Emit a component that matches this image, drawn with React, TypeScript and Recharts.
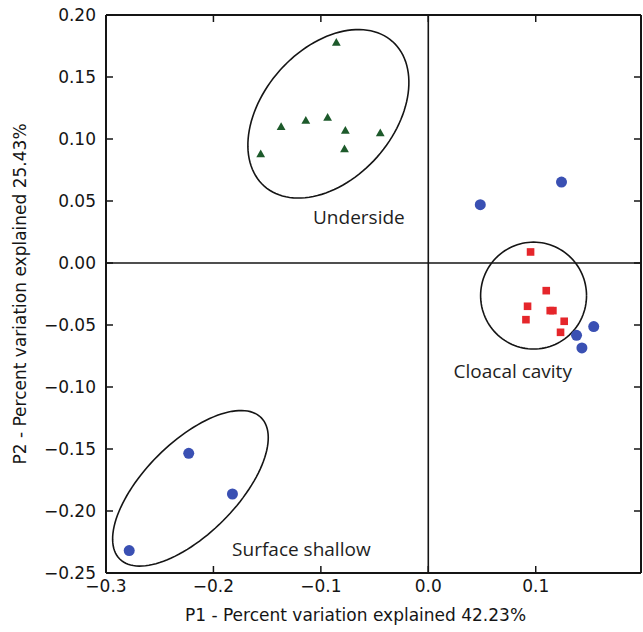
import { ScatterChart, Scatter, XAxis, YAxis, ReferenceLine } from 'recharts';

// PCoA scores
const triangles = [
  { x: -0.0856, y: 0.178 },
  { x: -0.137, y: 0.11 },
  { x: -0.114, y: 0.115 },
  { x: -0.0937, y: 0.1175 },
  { x: -0.0772, y: 0.107 },
  { x: -0.0447, y: 0.105 },
  { x: -0.078, y: 0.092 },
  { x: -0.156, y: 0.088 },
];

const circles = [
  { x: 0.124, y: 0.0653 },
  { x: 0.0484, y: 0.047 },
  { x: 0.154, y: -0.0513 },
  { x: 0.138, y: -0.0583 },
  { x: 0.143, y: -0.0685 },
  { x: -0.223, y: -0.1535 },
  { x: -0.1823, y: -0.1863 },
  { x: -0.2784, y: -0.2319 },
];

const squares = [
  { x: 0.0952, y: 0.0089 },
  { x: 0.1098, y: -0.0223 },
  { x: 0.0924, y: -0.0349 },
  { x: 0.1135, y: -0.0384 },
  { x: 0.116, y: -0.0384 },
  { x: 0.0909, y: -0.0457 },
  { x: 0.1265, y: -0.047 },
  { x: 0.1231, y: -0.0559 },
];

const xTicks = [-0.3, -0.2, -0.1, 0, 0.1];
const yTicks = [0.2, 0.15, 0.1, 0.05, 0, -0.05, -0.1, -0.15, -0.2, -0.25];

// group ellipses: centre + two conjugate half-axes (data units)
const ellipses = [
  { name: 'underside', cx: -0.093, cy: 0.1203, ux: 0.0597, uy: 0.0583, vx: -0.0453, vy: 0.0349 },
  { name: 'cloacal', cx: 0.098, cy: -0.0263, ux: 0.0493, uy: 0, vx: 0, vy: 0.0431 },
  { name: 'surface', cx: -0.2214, cy: -0.1817, ux: 0.0658, uy: 0.057, vx: -0.0303, vy: 0.0262 },
];

const groupLabels = [
  { text: 'Underside', x: -0.1073, y: 0.0318 },
  { text: 'Cloacal cavity', x: 0.0235, y: -0.0927 },
  { text: 'Surface shallow', x: -0.1826, y: -0.2365 },
];

const INK = '#151515';
const TICK_FONT = 'DejaVu Sans, sans-serif';
const LABEL_FONT = '"Open Sans", sans-serif';

function ring(e: any) {
  const n = 120;
  return Array.from({ length: n + 1 }, (_, i) => {
    const t = (i / n) * Math.PI * 2;
    return {
      x: e.cx + e.ux * Math.cos(t) + e.vx * Math.sin(t),
      y: e.cy + e.uy * Math.cos(t) + e.vy * Math.sin(t),
    };
  });
}

const fmt = (v: number, d: number) =>
  (v < -1e-9 ? '\u2212' : '') + Math.abs(v).toFixed(d);

function LeftTick({ x, y, payload }: any) {
  return (
    <g>
      <line x1={x} x2={x + 7} y1={y} y2={y} stroke={INK} strokeWidth={1.5} />
      <text x={x - 10} y={y} dy="0.36em" textAnchor="end" fontSize={17} fontFamily={TICK_FONT} fill={INK}>
        {fmt(payload.value, 2)}
      </text>
    </g>
  );
}

function RightTick({ x, y }: any) {
  return <line x1={x} x2={x - 7} y1={y} y2={y} stroke={INK} strokeWidth={1.5} />;
}

function BottomTick({ x, y, payload }: any) {
  return (
    <g>
      <line x1={x} x2={x} y1={y} y2={y - 7} stroke={INK} strokeWidth={1.5} />
      <text x={x} y={y + 18.5} textAnchor="middle" fontSize={17} fontFamily={TICK_FONT} fill={INK}>
        {fmt(payload.value, 1)}
      </text>
    </g>
  );
}

function TopTick({ x, y }: any) {
  return <line x1={x} x2={x} y1={y} y2={y + 7} stroke={INK} strokeWidth={1.5} />;
}

const Dot = ({ cx, cy }: any) => <circle cx={cx} cy={cy} r={5.5} fill="#3a50b3" />;
const Square = ({ cx, cy }: any) => (
  <rect x={cx - 3.8} y={cy - 3.8} width={7.6} height={7.6} fill="#e5262b" />
);
const Triangle = ({ cx, cy }: any) => (
  <path d={`M${cx},${cy - 4.3}L${cx + 4.4},${cy + 3.4}L${cx - 4.4},${cy + 3.4}Z`} fill="#1d5a2b" />
);
const Nothing = () => <g />;
const GroupLabel = ({ cx, cy, payload }: any) => (
  <text x={cx} y={cy} fontSize={19} fontFamily={LABEL_FONT} fill="#1e1e1e">
    {payload.text}
  </text>
);

export default function App() {
  return (
    <div style={{ position: 'absolute', left: 0, top: 0, background: '#fff' }}>
      <ScatterChart width={643} height={632} margin={{ top: 14, right: 1, bottom: 58, left: 105 }}>
        <XAxis
          type="number"
          dataKey="x"
          domain={[-0.3, 0.198]}
          ticks={xTicks}
          interval={0}
          allowDataOverflow
          height={1}
          tickSize={0}
          tickMargin={0}
          tickLine={false}
          axisLine={{ stroke: INK, strokeWidth: 2 }}
          tick={<BottomTick />}
          label={{
            content: ({ viewBox }: any) => (
              <text
                x={viewBox.x + viewBox.width / 2 - 18}
                y={viewBox.y + 48}
                textAnchor="middle"
                fontSize={17}
                fontFamily={TICK_FONT}
                fill={INK}
              >
                P1 - Percent variation explained 42.23%
              </text>
            ),
          }}
        />
        <XAxis
          xAxisId="top"
          orientation="top"
          type="number"
          dataKey="x"
          domain={[-0.3, 0.198]}
          ticks={xTicks}
          interval={0}
          allowDataOverflow
          height={1}
          tickSize={0}
          tickMargin={0}
          tickLine={false}
          axisLine={{ stroke: INK, strokeWidth: 2 }}
          tick={<TopTick />}
        />
        <YAxis
          type="number"
          dataKey="y"
          domain={[-0.25, 0.2]}
          ticks={yTicks}
          interval={0}
          allowDataOverflow
          width={1}
          tickSize={0}
          tickMargin={0}
          tickLine={false}
          axisLine={{ stroke: INK, strokeWidth: 2 }}
          tick={<LeftTick />}
          label={{
            content: ({ viewBox }: any) => {
              const lx = viewBox.x - 79;
              const ly = viewBox.y + viewBox.height / 2;
              return (
                <text
                  x={lx}
                  y={ly}
                  transform={`rotate(-90 ${lx} ${ly})`}
                  textAnchor="middle"
                  fontSize={17}
                  fontFamily={TICK_FONT}
                  fill={INK}
                >
                  P2 - Percent variation explained 25.43%
                </text>
              );
            },
          }}
        />
        <YAxis
          yAxisId="right"
          orientation="right"
          type="number"
          dataKey="y"
          domain={[-0.25, 0.2]}
          ticks={yTicks}
          interval={0}
          allowDataOverflow
          width={1}
          tickSize={0}
          tickMargin={0}
          tickLine={false}
          axisLine={{ stroke: INK, strokeWidth: 2 }}
          tick={<RightTick />}
        />
        <ReferenceLine x={0} stroke={INK} strokeWidth={1.6} />
        <ReferenceLine y={0} stroke={INK} strokeWidth={1.6} />
        {ellipses.map((e) => (
          <Scatter
            key={e.name}
            data={ring(e)}
            line={{ stroke: INK, strokeWidth: 1.6 }}
            lineType="joint"
            shape={<Nothing />}
            isAnimationActive={false}
            legendType="none"
          />
        ))}
        <Scatter data={triangles} shape={<Triangle />} isAnimationActive={false} />
        <Scatter data={squares} shape={<Square />} isAnimationActive={false} />
        <Scatter data={circles} shape={<Dot />} isAnimationActive={false} />
        <Scatter data={groupLabels} shape={<GroupLabel />} isAnimationActive={false} />
      </ScatterChart>
    </div>
  );
}
